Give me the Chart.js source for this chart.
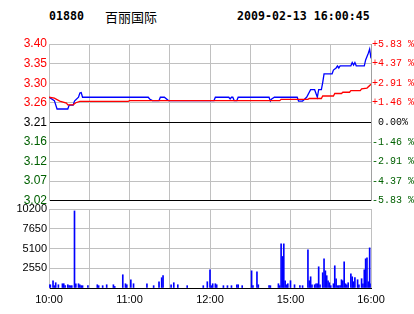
<!DOCTYPE html>
<html>
<head>
<meta charset="utf-8">
<script src="https://cdn.jsdelivr.net/npm/chart.js@4"></script>
<style>
  body { margin: 0; background: #fff; }
  #wrap { position: relative; width: 414px; height: 314px; overflow: hidden; background: #fff; }
  .hd { position: absolute; top: 9px; line-height: 16px; color: #000; white-space: pre; }
  .mono { font: bold 11.6px "DejaVu Sans Mono", monospace; }
  .name { font: 13px "Noto Sans CJK SC", sans-serif; top: 7px; }
  canvas { position: absolute; left: 0; }
</style>
</head>
<body>
<div id="wrap">
  <div class="hd mono" id="code" style="left:49px"></div>
  <div class="hd name" id="name" style="left:105px"></div>
  <div class="hd mono" id="stamp" style="left:237px"></div>
  <canvas id="priceChart" width="414" height="210" style="top:0"></canvas>
  <canvas id="volChart" width="414" height="114" style="top:200px"></canvas>
</div>
<script>
// header
const stockCode = "01880";
const stockName = "百丽国际";
const stampText = "2009-02-13 16:00:45";

// axes
const prevClose = 3.21;
const pctTicks = [-5.83, -4.37, -2.91, -1.46, 0, 1.46, 2.91, 4.37, 5.83];
const priceTickLabels = ["3.02", "3.07", "3.12", "3.16", "3.21", "3.26", "3.30", "3.35", "3.40"];
const pctTickLabels = ["-5.83 %", "-4.37 %", "-2.91 %", "-1.46 %", " 0.00%", "+1.46 %", "+2.91 %", "+4.37 %", "+5.83 %"];
const timeTickLabels = ["10:00", "", "11:00", "", "12:00", "", "15:00", "", "16:00"];
const volTicks = [0, 2550, 5100, 7650, 10200];

// last price (blue)
const priceTimes = ["10:00", "10:04", "10:06", "10:14", "10:15", "10:18", "10:19", "10:22", "10:23", "10:24",
  "10:25", "11:14", "11:15", "11:17", "11:22", "11:23", "11:26", "11:29", "12:03", "12:04",
  "12:14", "12:15", "12:16", "12:17", "12:18", "12:20", "12:21", "14:44", "14:45", "14:46",
  "14:48", "15:05", "15:06", "15:09", "15:12", "15:15", "15:18", "15:20", "15:21", "15:23",
  "15:24", "15:25", "15:31", "15:32", "15:34", "15:35", "15:36", "15:37", "15:45", "15:46",
  "15:47", "15:48", "15:49", "15:55", "15:56", "15:58", "15:59", "16:00"];
const prices = [3.270, 3.262, 3.242, 3.242, 3.251, 3.251, 3.261, 3.270, 3.280, 3.281,
  3.270, 3.270, 3.266, 3.262, 3.262, 3.270, 3.270, 3.262, 3.262, 3.270,
  3.270, 3.266, 3.270, 3.270, 3.262, 3.262, 3.270, 3.270, 3.261, 3.266,
  3.270, 3.270, 3.261, 3.261, 3.270, 3.288, 3.288, 3.270, 3.288, 3.288,
  3.305, 3.326, 3.326, 3.335, 3.340, 3.345, 3.340, 3.345, 3.345, 3.353,
  3.347, 3.353, 3.345, 3.345, 3.359, 3.375, 3.385, 3.363];

// average price (red)
const avgTimes = ["10:00", "10:04", "10:08", "10:13", "10:14", "10:18", "10:20", "10:23", "10:59", "11:00",
  "14:52", "14:53", "15:13", "15:14", "15:23", "15:24", "15:32", "15:33", "15:38", "15:39",
  "15:44", "15:45", "15:52", "15:53", "15:57", "16:00"];
const avgPrices = [3.270, 3.268, 3.261, 3.256, 3.252, 3.252, 3.257, 3.260, 3.260, 3.262,
  3.262, 3.265, 3.265, 3.267, 3.267, 3.273, 3.273, 3.279, 3.279, 3.282,
  3.282, 3.286, 3.286, 3.290, 3.292, 3.301];

// volume per minute
const volTimes = ["10:00", "10:01", "10:03", "10:04", "10:05", "10:07", "10:10", "10:11", "10:12", "10:14",
  "10:15", "10:16", "10:17", "10:19", "10:20", "10:22", "10:23", "10:24", "10:25", "10:29",
  "10:36", "10:37", "10:40", "10:43", "10:48", "10:49", "10:55", "10:57", "10:58", "11:01",
  "11:03", "11:13", "11:18", "11:22", "11:24", "11:25", "11:31", "11:33", "11:36", "11:43",
  "11:55", "11:58", "12:00", "12:01", "12:02", "12:04", "12:05", "12:10", "12:13", "12:16",
  "12:20", "12:21", "12:24", "14:31", "14:32", "14:35", "14:36", "14:44", "14:45", "14:51",
  "14:52", "14:53", "14:54", "14:55", "14:56", "14:57", "14:58", "15:00", "15:03", "15:07",
  "15:09", "15:13", "15:14", "15:15", "15:16", "15:18", "15:19", "15:20", "15:21", "15:22",
  "15:24", "15:25", "15:26", "15:27", "15:28", "15:29", "15:30", "15:32", "15:33", "15:34",
  "15:35", "15:36", "15:37", "15:38", "15:39", "15:40", "15:41", "15:42", "15:43", "15:45",
  "15:46", "15:47", "15:48", "15:50", "15:51", "15:53", "15:54", "15:55", "15:56", "15:57",
  "15:58", "15:59", "16:00"];
const volumes = [420, 420, 940, 300, 680, 420, 550, 550, 300, 420,
  300, 300, 300, 9950, 550, 550, 420, 300, 300, 300,
  420, 300, 300, 420, 420, 200, 1710, 550, 420, 1070,
  550, 550, 300, 810, 1330, 1590, 420, 680, 420, 300,
  300, 810, 2350, 300, 550, 550, 420, 300, 300, 300,
  420, 420, 300, 2220, 300, 2100, 420, 300, 300, 550,
  300, 5700, 4070, 5700, 940, 420, 550, 940, 420, 300,
  300, 4930, 940, 1450, 420, 420, 550, 550, 2740, 420,
  1970, 3770, 2220, 1590, 940, 680, 300, 550, 2870, 1200,
  300, 300, 300, 1070, 940, 3380, 550, 420, 680, 1840,
  1450, 810, 1330, 1070, 420, 1200, 550, 2350, 3770, 3900,
  810, 5180, 550];

const RED = "#ff0000", GREEN = "#006000", BLUE = "#0000ff", GRID = "#c0c0c0";

document.getElementById("code").textContent = stockCode;
document.getElementById("name").textContent = stockName;
document.getElementById("stamp").textContent = stampText;

// trading minutes since 10:00, lunch break (12:30-14:30) removed
function toMinute(t) {
  const [h, m] = t.split(":").map(Number);
  const clock = h * 60 + m;
  return clock <= 12 * 60 + 30 ? clock - 600 : clock - 870 + 150;
}
const pts = (times, vals) => times.map((t, i) => ({ x: toMinute(t), y: vals[i] }));
const tickColor = (i) => (i < 4 ? GREEN : i === 4 ? "#000" : RED);

Chart.defaults.font.family = "Liberation Sans";
Chart.defaults.animation = false;

const priceTickValues = pctTicks.map((p) => prevClose * (1 + p / 100));
const setPriceTicks = (s) => { s.ticks = priceTickValues.map((v) => ({ value: v })); };

const xGrid = {
  type: "linear", min: 0, max: 240, offset: false,
  grid: { color: GRID, drawTicks: false, offset: false },
  ticks: { stepSize: 30, autoSkip: false, maxRotation: 0 },
};

new Chart(document.getElementById("priceChart"), {
  type: "line",
  data: {
    datasets: [
      { data: pts(avgTimes, avgPrices), borderColor: RED, borderWidth: 1.3, pointRadius: 0, tension: 0 },
      { data: pts(priceTimes, prices), borderColor: BLUE, borderWidth: 1.3, pointRadius: 0, tension: 0 },
    ],
  },
  options: {
    responsive: false,
    devicePixelRatio: 1,
    layout: { padding: { top: 44, bottom: 7, left: 0, right: 0 } },
    plugins: { legend: { display: false }, tooltip: { enabled: false } },
    scales: {
      x: {
        ...xGrid,
        border: { color: "#000" },
        ticks: { ...xGrid.ticks, display: false },
        afterFit: (s) => { s.height = 0; },
      },
      y: {
        min: priceTickValues[0], max: priceTickValues[8],
        afterBuildTicks: setPriceTicks,
        afterFit: (s) => { s.width = 49; },
        border: { color: GRID },
        grid: { drawTicks: false, color: (c) => (c.index === 0 || c.index === 4 ? "#000" : GRID) },
        ticks: {
          padding: 2, font: { size: 12 },
          color: (c) => tickColor(c.index),
          callback: (v, i) => priceTickLabels[i],
        },
      },
      y2: {
        position: "right",
        min: priceTickValues[0], max: priceTickValues[8],
        afterBuildTicks: setPriceTicks,
        afterFit: (s) => { s.width = 43; },
        border: { color: "#a0a0a0" },
        grid: { drawOnChartArea: false, drawTicks: false },
        ticks: {
          padding: 1, font: { family: "Liberation Mono", size: 10 },
          color: (c) => tickColor(c.index),
          callback: (v, i) => pctTickLabels[i],
        },
      },
    },
  },
});

new Chart(document.getElementById("volChart"), {
  type: "bar",
  data: {
    datasets: [{ data: pts(volTimes, volumes), backgroundColor: BLUE, barThickness: 1 }],
  },
  options: {
    responsive: false,
    devicePixelRatio: 1,
    layout: { padding: { top: 9, right: 43, bottom: 0, left: 0 } },
    plugins: { legend: { display: false }, tooltip: { enabled: false } },
    scales: {
      x: {
        ...xGrid,
        border: { color: "#000" },
        afterFit: (s) => { s.height = 26; },
        ticks: {
          ...xGrid.ticks, padding: 5, color: "#000", font: { size: 11 },
          callback: (v) => timeTickLabels[v / 30],
        },
      },
      y: {
        min: 0, max: 10200,
        afterBuildTicks: (s) => { s.ticks = volTicks.map((v) => ({ value: v })); },
        afterFit: (s) => { s.width = 49; },
        border: { color: GRID },
        grid: { drawTicks: false, color: (c) => (c.index === 0 ? "#000" : GRID) },
        ticks: {
          padding: 2, color: "#000", font: { size: 11 },
          callback: (v) => (v === 0 ? "" : String(v)),
        },
      },
    },
  },
});
</script>
</body>
</html>
